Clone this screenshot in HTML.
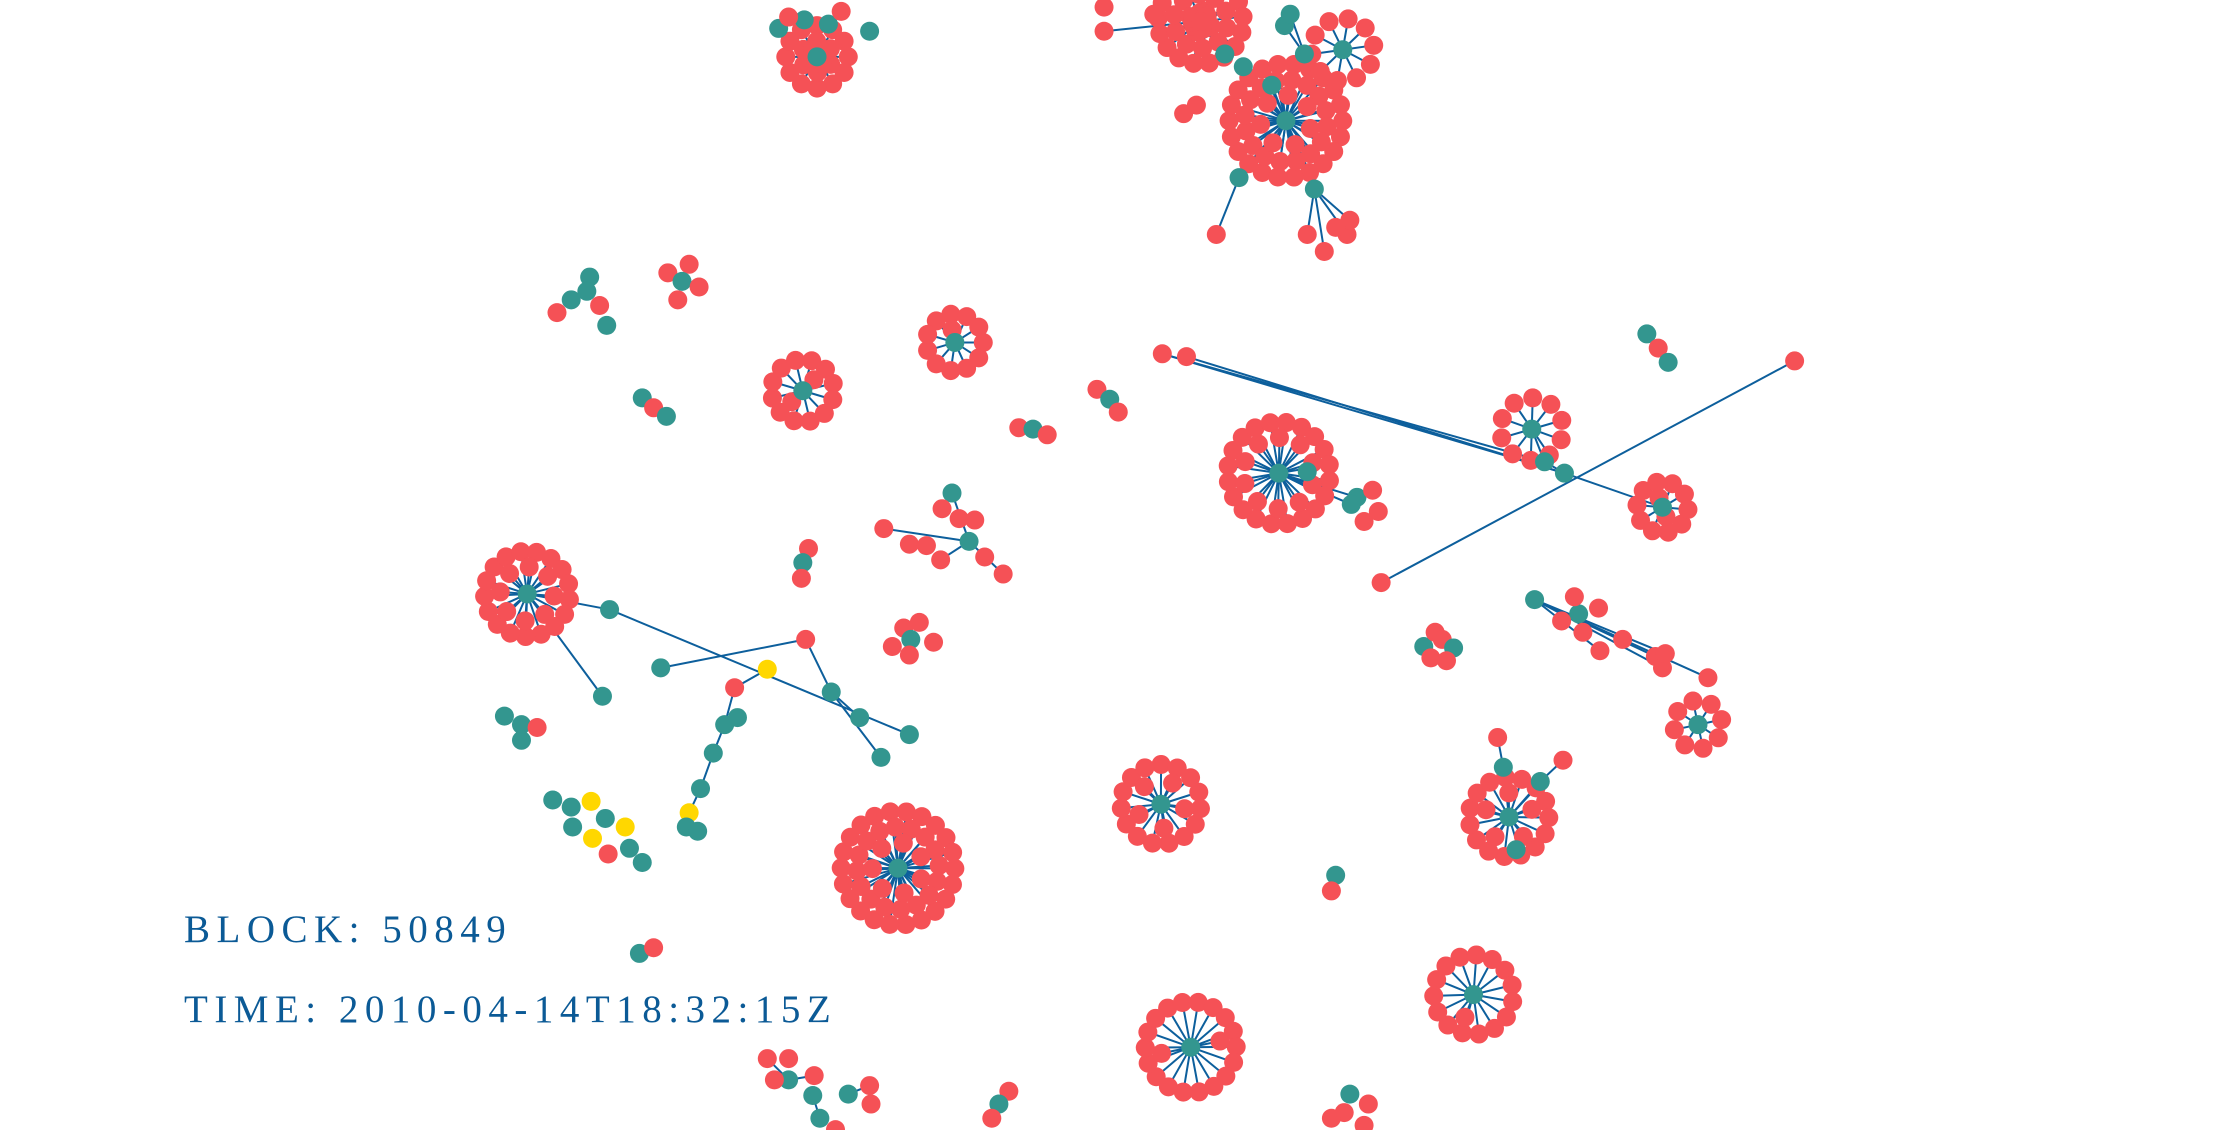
<!DOCTYPE html>
<html><head><meta charset="utf-8"><style>
html,body{margin:0;padding:0;background:#fff;width:2228px;height:1130px;overflow:hidden}
svg{display:block}
.lbl{font-family:"Liberation Serif",serif;font-size:39px;fill:#0b5a96;letter-spacing:6.5px}
</style></head><body>
<svg id="g" width="2228" height="1130" viewBox="0 0 2228 1130">
<g id="edges"></g>
<g id="nodes"></g>
<text class="lbl" x="184" y="942">BLOCK: 50849</text>
<text class="lbl" x="184" y="1022">TIME: 2010-04-14T18:32:15Z</text>
</svg>
<script>
// clusters: hub x, hub y, leaf count, spread radius (graph units)
const clusterHubs = [[575,40],[845,15],[905,85],[945,35],[672,241],[565,275],[1078,302],[1170,357],[900,333],[371,418],[1195,510],[817,566],[632,611],[1062,575],[1037,700],[838,737]];
const clusterLeaves = [20,40,45,10,12,14,10,12,30,25,8,20,45,20,16,20];
const clusterRadius = [22,30,40,22,20,22,22,18,36,30,17,28,40,28,28,32];
const clusterHubColor = ['t','r','t','t','t','t','t','t','t','t','t','t','t','t','t','t'];
// individual nodes: x, y, color (r=red, t=teal, y=yellow)
const nodes = [
[548,20,'t'],[612,22,'t'],[583,17,'t'],[566,14,'t'],[555,12,'r'],[592,8,'r'],
[875,47,'t'],[862,38,'t'],[904,18,'t'],[908,10,'t'],[918,38,'t'],[895,60,'t'],
[872,125,'t'],[856,165,'r'],[925,133,'t'],[920,165,'r'],[932,177,'r'],[948,165,'r'],[950,155,'r'],[940,160,'r'],
[777,22,'r'],[777,5,'r'],[812,10,'r'],[833,80,'r'],[842,74,'r'],
[415,195,'t'],[402,211,'t'],[413,205,'t'],[392,220,'r'],[422,215,'r'],[427,229,'t'],
[470,192,'r'],[485,186,'r'],[480,198,'t'],[492,202,'r'],[477,211,'r'],
[452,280,'t'],[460,287,'r'],[469,293,'t'],
[717,301,'r'],[727,302,'t'],[737,306,'r'],
[772,274,'r'],[781,281,'t'],[787,290,'r'],
[818,249,'r'],[835,251,'r'],[1087,325,'t'],[1101,333,'t'],[1263,254,'r'],[972,410,'r'],
[955,350,'t'],[966,345,'r'],[960,367,'r'],[951,355,'t'],[970,360,'r'],[920,332,'t'],
[1159,235,'t'],[1167,245,'r'],[1174,255,'t'],
[670,347,'t'],[663,358,'r'],[675,365,'r'],[682,381,'t'],[622,372,'r'],[640,383,'r'],[652,384,'r'],[662,394,'r'],[693,392,'r'],[706,404,'r'],[686,366,'r'],
[569,386,'r'],[565,396,'t'],[564,407,'r'],
[636,442,'r'],[647,438,'r'],[641,450,'t'],[657,452,'r'],[628,455,'r'],[640,461,'r'],
[429,429,'t'],[640,517,'t'],[424,490,'t'],
[567,450,'r'],[465,470,'t'],[540,471,'y'],[585,487,'t'],[605,505,'t'],[620,533,'t'],
[517,484,'r'],[510,510,'t'],[519,505,'t'],[502,530,'t'],[493,555,'t'],[485,572,'y'],[483,582,'t'],[491,585,'t'],
[355,504,'t'],[367,510,'t'],[378,512,'r'],[367,521,'t'],
[389,563,'t'],[402,568,'t'],[416,564,'y'],[426,576,'t'],[440,582,'y'],[417,590,'y'],[403,582,'t'],[428,601,'r'],[443,597,'t'],[452,607,'t'],
[1002,455,'t'],[1010,445,'r'],[1015,450,'r'],[1023,456,'t'],[1007,463,'r'],[1018,465,'r'],
[1080,422,'t'],[1111,432,'t'],[1108,420,'r'],[1125,428,'r'],[1099,437,'r'],[1114,445,'r'],[1126,458,'r'],[1142,450,'r'],[1165,462,'r'],[1170,470,'r'],[1172,460,'r'],[1202,477,'r'],
[1058,540,'t'],[1084,550,'t'],[1067,598,'t'],[1054,519,'r'],[1100,535,'r'],
[940,616,'t'],[937,627,'r'],[450,671,'t'],[460,667,'r'],
[540,745,'r'],[555,745,'r'],[555,760,'t'],[573,757,'r'],[572,771,'t'],[597,770,'t'],[612,764,'r'],[613,777,'r'],[577,787,'t'],[545,760,'r'],[588,795,'r'],
[710,768,'r'],[703,777,'t'],[698,787,'r'],
[950,770,'t'],[963,777,'r'],[946,783,'r'],[960,792,'r'],[937,787,'r']
];
// edges between individual nodes (x1,y1,x2,y2 in graph units)
const links = [
[875,47,905,85],[862,38,845,15],[904,18,918,38],[895,60,905,85],[872,125,905,85],[872,125,856,165],
[925,133,905,85],[925,133,920,165],[925,133,932,177],[925,133,948,165],[925,133,950,155],
[777,22,845,15],[812,10,845,15],[918,38,908,10],
[818,249,1087,325],[835,251,1101,333],[818,249,1101,333],[1263,254,972,410],[1101,333,1170,357],[1087,325,1101,333],[1078,302,1087,325],
[900,333,955,350],[900,333,951,355],
[670,347,682,381],[622,372,682,381],[682,381,706,404],[682,381,662,394],
[371,418,429,429],[429,429,640,517],[371,418,424,490],
[567,450,465,470],[567,450,585,487],[585,487,605,505],[585,487,620,533],[540,471,517,484],[517,484,510,510],[510,510,502,530],[502,530,493,555],[493,555,485,572],
[1080,422,1165,462],[1080,422,1170,470],[1080,422,1172,460],[1080,422,1202,477],[1080,422,1126,458],[1080,422,1142,450],[1111,432,1099,437],
[1058,540,1054,519],[1084,550,1100,535],[1058,540,1062,575],[1084,550,1062,575],
[555,760,540,745],[555,760,573,757],[572,771,577,787],[597,770,612,764],[703,777,710,768]
];
const S = 2228/1568;
const X = v => v*S, Y = v => v*S;
const COL = {r:'#f55156', t:'#33968f', y:'#ffd700'};
const NS = 'http://www.w3.org/2000/svg';
const eg = document.getElementById('edges'), ng = document.getElementById('nodes');
function line(x1,y1,x2,y2){
  const l=document.createElementNS(NS,'line');
  l.setAttribute('x1',X(x1));l.setAttribute('y1',Y(y1));l.setAttribute('x2',X(x2));l.setAttribute('y2',Y(y2));
  l.setAttribute('stroke','#0d5f9c');l.setAttribute('stroke-width','2');
  
  
  eg.appendChild(l);
}
function dot(x,y,c){
  const e=document.createElementNS(NS,'circle');
  e.setAttribute('cx',X(x));e.setAttribute('cy',Y(y));e.setAttribute('r',9.5);e.setAttribute('fill',COL[c]);
  
  
  ng.appendChild(e);
}
const hubs=[];
clusterHubs.forEach((h,i)=>{
  const n=clusterLeaves[i], R=clusterRadius[i];
  let left=n, r=R, k=0;
  while(left>0){
    const cap=Math.max(1,Math.floor(2*Math.PI*r/11));
    const m=Math.min(cap,left);
    for(let j=0;j<m;j++){
      const a=j/m*2*Math.PI+k*0.5+i;
      const lx=h[0]+r*Math.cos(a), ly=h[1]+r*Math.sin(a);
      line(h[0],h[1],lx,ly);
      dot(lx,ly,'r');
    }
    left-=m; r-=11; k++;
    if(r<6) r=6;
  }
  hubs.push([h[0],h[1],clusterHubColor[i]]);
});
links.forEach(l=>line(l[0],l[1],l[2],l[3]));
nodes.forEach(n=>dot(n[0],n[1],n[2]));
hubs.forEach(h=>dot(h[0],h[1],h[2]));
</script>
</body></html>
